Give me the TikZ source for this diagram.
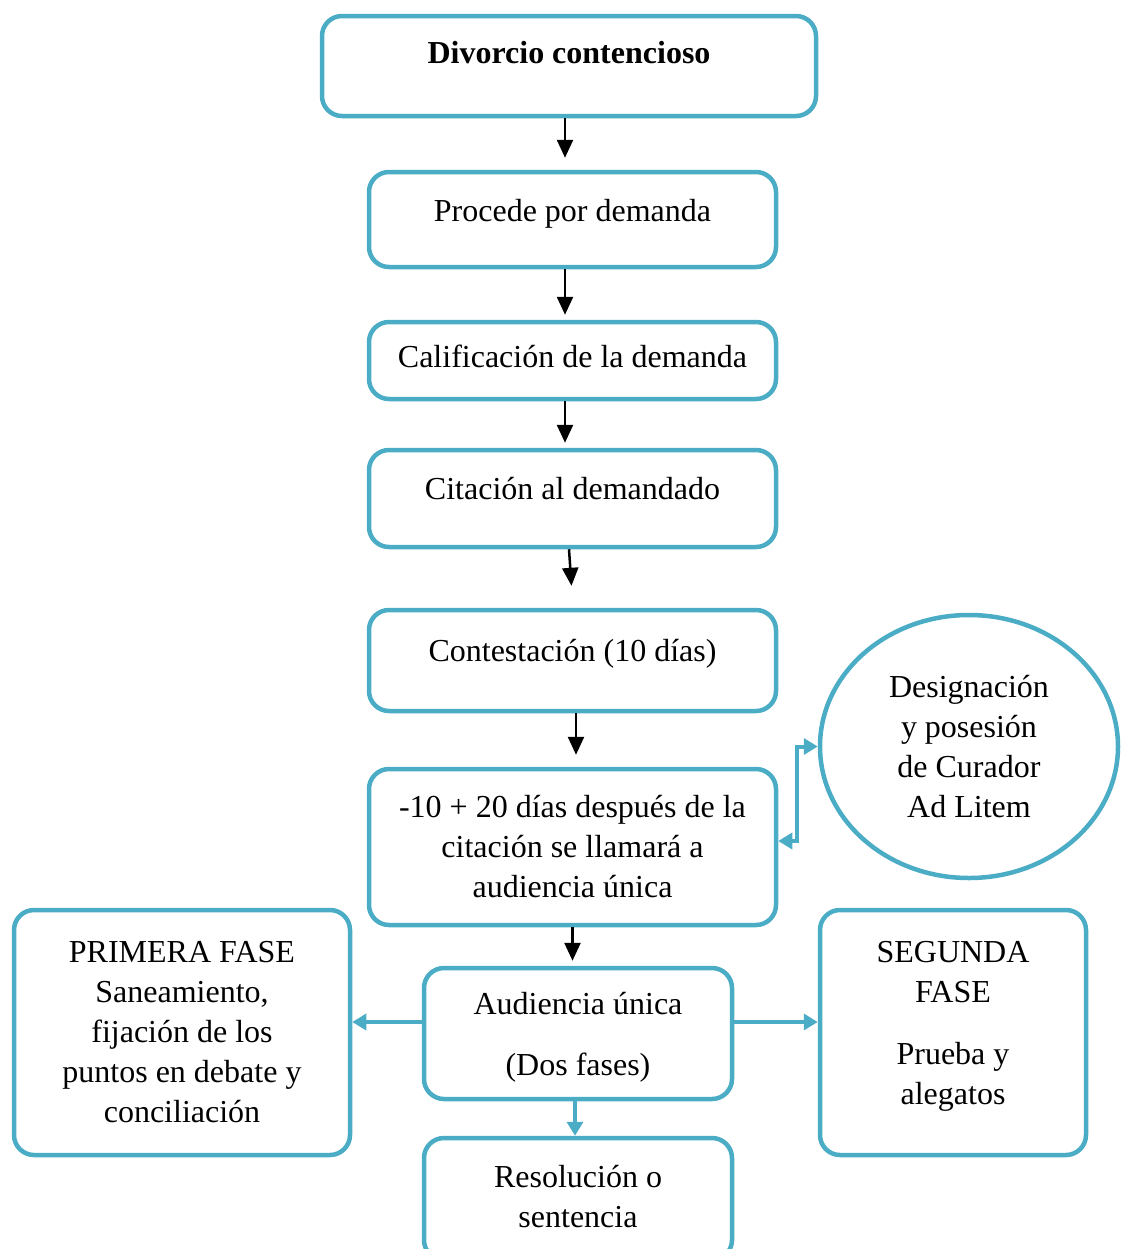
\documentclass[tikz,border=0pt]{standalone}
\usepackage{fontspec}
\setmainfont{Liberation Serif}
\usetikzlibrary{shapes.geometric,arrows.meta}
\definecolor{tealline}{HTML}{4BACC6}
\begin{document}
\begin{tikzpicture}[x=0.5pt,y=-0.5pt,
    box/.style={draw=tealline,line width=2.25pt,rounded corners=10pt,align=center,font=\fontsize{16}{20}\selectfont},
    circ/.style={draw=tealline,line width=2.25pt,ellipse,align=center,inner sep=0pt,font=\fontsize{16}{20}\selectfont},
    arr/.style={line width=1.25pt,-{Triangle[width=8pt,length=9pt]}},
    tarr/.style={draw=tealline,line width=2pt,-{Triangle[width=8pt,length=7pt]}}]
        \clip (0,0) rectangle (1121,1249);
        % main chain
        \node[box,minimum width=247pt,minimum height=50pt,text height=11pt,text depth=14pt] (divorcio) at (569,66) {\bfseries Divorcio contencioso};
        \node[box,minimum width=203.5pt,minimum height=47.5pt,text height=11pt,text depth=9.5pt] (demanda) at (572.5,219.5) {Procede por demanda};
        \node[box,minimum width=203.5pt,minimum height=38.5pt,text height=11pt,text depth=4.5pt] (calif) at (572.5,360.5) {Calificación de la demanda};
        \node[box,minimum width=203.5pt,minimum height=48.5pt,text height=11pt,text depth=10.5pt] (citacion) at (572.5,498.5) {Citación al demandado};
        \node[box,minimum width=203.5pt,minimum height=50.5pt,text height=11pt,text depth=10pt] (contest) at (572.5,660.5) {Contestación (10 días)};
        \node[box,minimum width=203.5pt,minimum height=78pt] (llamado) at (572.5,847) {-10 + 20 días después de la\\citación se llamará a\\audiencia única};
        \node[circ,minimum width=149pt,minimum height=131.5pt] (curador) at (969,746.5) {Designación\\y posesión\\de Curador\\Ad Litem};
        \node[box,minimum width=154pt,minimum height=65.5pt,text depth=0pt] (audiencia) at (578,1033.5) {Audiencia única\\[10.5pt](Dos fases)};
        \node[box,minimum width=168pt,minimum height=122.5pt] (primera) at (182,1032.5) {PRIMERA FASE\\Saneamiento,\\fijación de los\\puntos en debate y\\conciliación};
        \node[box,minimum width=133pt,minimum height=122.5pt,text depth=9.5pt] (segunda) at (953,1032.5) {SEGUNDA\\FASE\\[11pt]Prueba y\\alegatos};
        \node[box,minimum width=154pt,minimum height=61pt,text depth=3pt] (resol) at (578,1199) {Resolución o\\sentencia};
        % black arrows
        \draw[arr,shorten >=6pt] ([xshift=-2pt]divorcio.south) -- ([xshift=-2pt]divorcio.south |- demanda.north);
        \draw[arr,shorten >=2.5pt] ([xshift=-3.75pt]demanda.south) -- ([xshift=-3.75pt]demanda.south |- calif.north);
        \draw[arr,shorten >=2.5pt] ([xshift=-3.75pt]calif.south) -- ([xshift=-3.75pt]calif.south |- citacion.north);
        \draw[arr,shorten >=11pt] ([xshift=-1.75pt]citacion.south) -- ([xshift=0.25pt]contest.north);
        \draw[arr,shorten >=6pt] ([xshift=1.75pt]contest.south) -- ([xshift=1.75pt]contest.south |- llamado.north);
        \draw[arr,shorten >=2.5pt] (llamado.south) -- (llamado.south |- audiencia.north);
        % teal arrows
        \draw[tarr,{Triangle[width=8pt,length=7pt]}-{Triangle[width=8pt,length=7pt]}] (curador.west) -- ++(-10.5pt,0) |- ([yshift=3pt]llamado.east);
        \draw[tarr] ([yshift=5.75pt]audiencia.west) -- ([yshift=5.75pt]audiencia.west -| primera.east);
        \draw[tarr] ([yshift=5.75pt]audiencia.east) -- ([yshift=5.75pt]audiencia.east -| segunda.west);
        \draw[tarr] ([xshift=-1.5pt]audiencia.south) -- ([xshift=-1.5pt]audiencia.south |- resol.north);
\end{tikzpicture}
\end{document}
